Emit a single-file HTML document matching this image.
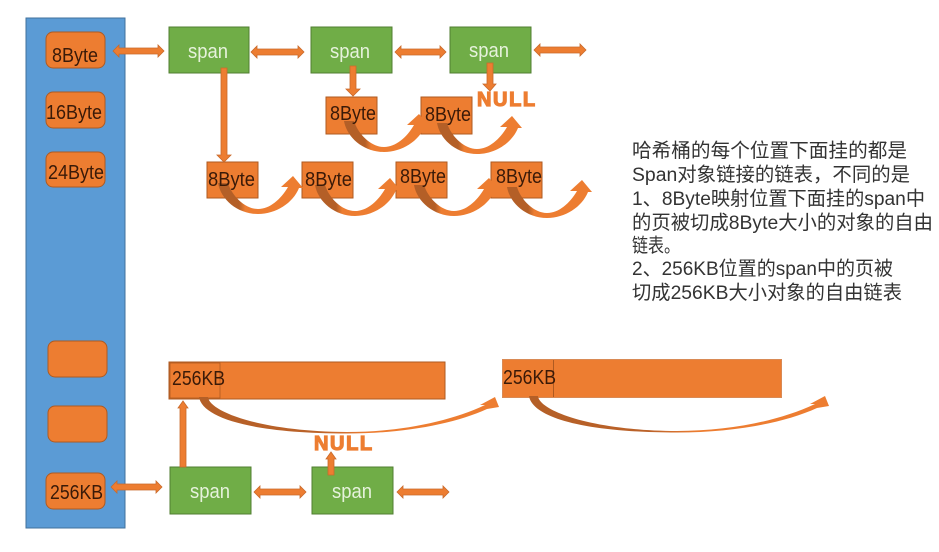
<!DOCTYPE html>
<html>
<head>
<meta charset="utf-8">
<style>
html,body{margin:0;padding:0;background:#fff;width:939px;height:552px;overflow:hidden}
svg{display:block;filter:blur(.35px)}
.l{font-family:"Liberation Sans",sans-serif;font-size:20px;fill:#3a1a08}
.s{font-family:"Liberation Sans",sans-serif;font-size:20px;fill:#e6f2dc}
.n{font-family:"Liberation Sans",sans-serif;font-size:20px;font-weight:bold;fill:#ed7d31;stroke:#ed7d31;stroke-width:1.2px;letter-spacing:1.6px}
.c{font-family:"Liberation Sans","Noto Sans CJK SC",sans-serif;font-size:19.6px;fill:#333}
.o{fill:#ed7d31;stroke:#ae5a21;stroke-width:1}
.g{fill:#70ad47;stroke:#507e32;stroke-width:1}
.a{fill:#ed7d31;stroke:#c96a2b;stroke-width:.8}
</style>
</head>
<body>
<svg width="939" height="552" viewBox="0 0 939 552" xmlns="http://www.w3.org/2000/svg">
<defs>
<linearGradient id="sg" gradientUnits="userSpaceOnUse" x1="0" y1="0" x2="34" y2="0">
<stop offset="0" stop-color="#b45f27"/><stop offset=".62" stop-color="#b45f27"/><stop offset=".8" stop-color="#ed7d31"/>
</linearGradient>
<linearGradient id="lg" gradientUnits="userSpaceOnUse" x1="0" y1="0" x2="200" y2="0">
<stop offset="0" stop-color="#b45f27"/><stop offset=".6" stop-color="#bb6229"/><stop offset=".85" stop-color="#ed7d31"/>
</linearGradient>
<g id="curve">
<path d="M0,0 C3,17 20,31 40,31 C58,31 75,20 81,5 L85,5 L75,-7 L63,4 L70,4 C63,16 52,26 40,26 C27,26 14,13 10,0 Z" fill="url(#sg)"/>
</g>
<g id="long">
<path d="M0,0 C3,20 50,36.500 148,36.500 C205,36.500 255,27 288,12 L300,10 L296,0 L281,8 L286,8 C250,25 200,35 148,35 C60,34.500 10,14 9,0 Z" fill="url(#lg)"/>
</g>
</defs>

<rect x="26" y="18" width="99" height="510" fill="#5b9bd5" stroke="#41719c"/>
<rect class="o" x="46" y="32" width="59" height="36" rx="7"/>
<rect class="o" x="46" y="92" width="59" height="36" rx="7"/>
<rect class="o" x="46" y="152" width="59" height="35" rx="7"/>
<rect class="o" x="48" y="341" width="59" height="36" rx="7"/>
<rect class="o" x="48" y="406" width="59" height="36" rx="7"/>
<rect class="o" x="46" y="473" width="59" height="36" rx="7"/>

<rect class="g" x="169" y="27" width="80" height="46"/>
<rect class="g" x="311" y="27" width="81" height="46"/>
<rect class="g" x="450" y="27" width="81" height="46"/>
<rect class="g" x="170" y="467" width="81" height="47"/>
<rect class="g" x="312" y="467" width="81" height="47"/>

<path class="a" d="M113,51 L119,45 L119,48 L158,48 L158,45 L164,51 L158,57 L158,54 L119,54 L119,57 Z"/>
<path class="a" d="M251,52 L257,46 L257,49 L298,49 L298,46 L304,52 L298,58 L298,55 L257,55 L257,58 Z"/>
<path class="a" d="M395,52 L401,46 L401,49 L440,49 L440,46 L446,52 L440,58 L440,55 L401,55 L401,58 Z"/>
<path class="a" d="M534,50 L540,44 L540,47 L580,47 L580,44 L586,50 L580,56 L580,53 L540,53 L540,56 Z"/>
<path class="a" d="M111,487 L117,481 L117,484 L156,484 L156,481 L162,487 L156,493 L156,490 L117,490 L117,493 Z"/>
<path class="a" d="M254,492 L260,486 L260,489 L300,489 L300,486 L306,492 L300,498 L300,495 L260,495 L260,498 Z"/>
<path class="a" d="M397,492 L403,486 L403,489 L443,489 L443,486 L449,492 L443,498 L443,495 L403,495 L403,498 Z"/>

<rect class="o" x="326" y="97" width="51" height="37"/>
<rect class="o" x="421" y="97" width="51" height="37"/>
<rect class="o" x="207" y="162" width="51" height="36"/>
<rect class="o" x="302" y="162" width="51" height="36"/>
<rect class="o" x="396" y="162" width="51" height="36"/>
<rect class="o" x="491" y="162" width="51" height="36"/>

<path class="a" d="M221,68 L227,68 L227,155 L231,155 L224,162 L217,155 L221,155 Z"/>
<path class="a" d="M350,66 L356,66 L356,89 L360,89 L353,96 L346,89 L350,89 Z"/>
<path class="a" d="M487,63 L493,63 L493,84 L496,84 L490,91 L483,84 L487,84 Z"/>

<use href="#curve" transform="translate(218,183)"/>
<use href="#curve" transform="translate(344,121)"/>
<use href="#curve" transform="translate(437,123)"/>
<use href="#curve" transform="translate(315,185)"/>
<use href="#curve" transform="translate(414,185)"/>
<use href="#curve" transform="translate(507,187)"/>

<rect class="o" x="169" y="362" width="276" height="37"/>
<rect x="170" y="363" width="50" height="35" fill="none" stroke="#ae5a21" stroke-width=".8"/>
<rect x="502.500" y="359.500" width="279" height="38" fill="#ed7d31" stroke="#d98a55"/>
<line x1="553.500" y1="360" x2="553.500" y2="397" stroke="#ae5a21"/>
<use href="#long" transform="translate(199,397)"/>
<use href="#long" transform="translate(529,396)"/>

<path class="a" d="M180,467 L186,467 L186,408 L188,408 L183,401 L178,408 L180,408 Z"/>
<path class="a" d="M328,475 L334,475 L334,459 L336,459 L331,452 L326,459 L328,459 Z"/>

<text class="l" x="52" y="62" textLength="46" lengthAdjust="spacingAndGlyphs">8Byte</text>
<text class="l" x="46" y="119" textLength="56" lengthAdjust="spacingAndGlyphs">16Byte</text>
<text class="l" x="48" y="179" textLength="56" lengthAdjust="spacingAndGlyphs">24Byte</text>
<text class="l" x="50" y="499" textLength="53" lengthAdjust="spacingAndGlyphs">256KB</text>
<text class="l" x="172" y="385" textLength="53" lengthAdjust="spacingAndGlyphs">256KB</text>
<text class="l" x="503" y="384" textLength="53" lengthAdjust="spacingAndGlyphs">256KB</text>
<text class="l" x="330" y="120" textLength="46" lengthAdjust="spacingAndGlyphs">8Byte</text>
<text class="l" x="425" y="121" textLength="46" lengthAdjust="spacingAndGlyphs">8Byte</text>
<text class="l" x="208" y="186" textLength="47" lengthAdjust="spacingAndGlyphs">8Byte</text>
<text class="l" x="305" y="186" textLength="47" lengthAdjust="spacingAndGlyphs">8Byte</text>
<text class="l" x="400" y="183" textLength="46" lengthAdjust="spacingAndGlyphs">8Byte</text>
<text class="l" x="496" y="183" textLength="46" lengthAdjust="spacingAndGlyphs">8Byte</text>

<text class="s" x="188" y="58" textLength="40" lengthAdjust="spacingAndGlyphs">span</text>
<text class="s" x="330" y="58" textLength="40" lengthAdjust="spacingAndGlyphs">span</text>
<text class="s" x="469" y="57" textLength="40" lengthAdjust="spacingAndGlyphs">span</text>
<text class="s" x="190" y="498" textLength="40" lengthAdjust="spacingAndGlyphs">span</text>
<text class="s" x="332" y="498" textLength="40" lengthAdjust="spacingAndGlyphs">span</text>

<text class="n" x="477" y="106">NULL</text>
<text class="n" x="314" y="450">NULL</text>

<text class="c" x="632" y="157" textLength="275" lengthAdjust="spacingAndGlyphs">哈希桶的每个位置下面挂的都是</text>
<text class="c" x="632" y="181" textLength="278" lengthAdjust="spacingAndGlyphs">Span对象链接的链表，不同的是</text>
<text class="c" x="632" y="205" textLength="293" lengthAdjust="spacingAndGlyphs">1、8Byte映射位置下面挂的span中</text>
<text class="c" x="632" y="229" textLength="301" lengthAdjust="spacingAndGlyphs">的页被切成8Byte大小的对象的自由</text>
<text class="c" x="632" y="252" textLength="48" lengthAdjust="spacingAndGlyphs">链表。</text>
<text class="c" x="632" y="275" textLength="261" lengthAdjust="spacingAndGlyphs">2、256KB位置的span中的页被</text>
<text class="c" x="632" y="299" textLength="270" lengthAdjust="spacingAndGlyphs">切成256KB大小对象的自由链表</text>
</svg>
</body>
</html>
